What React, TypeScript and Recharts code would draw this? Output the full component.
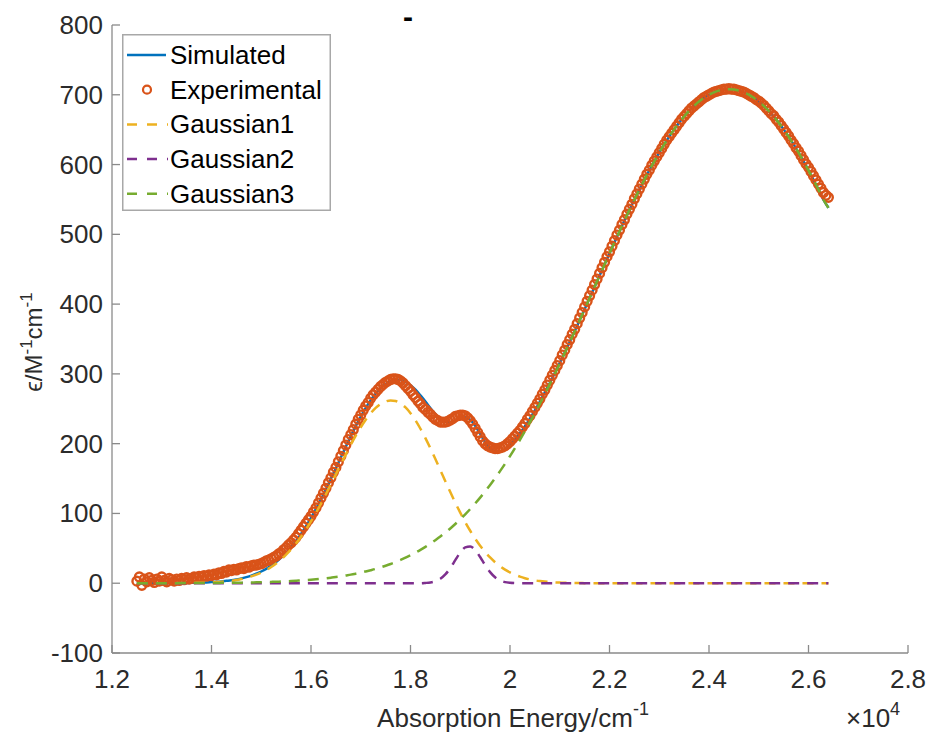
import { ComposedChart, Line, Scatter, XAxis, YAxis, Legend } from 'recharts';

const FONT = '"Liberation Sans", Arial, Helvetica, sans-serif';
const AXIS = '#8a8a8a';
const TEXT = '#2b2b2b';
const C_SIM = '#0072BD';
const C_EXP = '#D95319';
const C_G1 = '#EDB120';
const C_G2 = '#7E2F8E';
const C_G3 = '#77AC30';
const DASH = '11 8';

// Experimental spectrum (cm^-1, M^-1 cm^-1)
const EXP_ENERGY = [
  12500, 12550, 12600, 12650, 12700, 12750, 12800, 12850, 12900, 12950,
  13000, 13050, 13100, 13150, 13200, 13250, 13300, 13350, 13400, 13450,
  13500, 13550, 13600, 13650, 13700, 13750, 13800, 13850, 13900, 13950,
  14000, 14050, 14100, 14150, 14200, 14250, 14300, 14350, 14400, 14450,
  14500, 14550, 14600, 14650, 14700, 14750, 14800, 14850, 14900, 14950,
  15000, 15050, 15100, 15150, 15200, 15250, 15300, 15350, 15400, 15450,
  15500, 15550, 15600, 15650, 15700, 15750, 15800, 15850, 15900, 15950,
  16000, 16050, 16100, 16150, 16200, 16250, 16300, 16350, 16400, 16450,
  16500, 16550, 16600, 16650, 16700, 16750, 16800, 16850, 16900, 16950,
  17000, 17050, 17100, 17150, 17200, 17250, 17300, 17350, 17400, 17450,
  17500, 17550, 17600, 17650, 17700, 17750, 17800, 17850, 17900, 17950,
  18000, 18050, 18100, 18150, 18200, 18250, 18300, 18350, 18400, 18450,
  18500, 18550, 18600, 18650, 18700, 18750, 18800, 18850, 18900, 18950,
  19000, 19050, 19100, 19150, 19200, 19250, 19300, 19350, 19400, 19450,
  19500, 19550, 19600, 19650, 19700, 19750, 19800, 19850, 19900, 19950,
  20000, 20050, 20100, 20150, 20200, 20250, 20300, 20350, 20400, 20450,
  20500, 20550, 20600, 20650, 20700, 20750, 20800, 20850, 20900, 20950,
  21000, 21050, 21100, 21150, 21200, 21250, 21300, 21350, 21400, 21450,
  21500, 21550, 21600, 21650, 21700, 21750, 21800, 21850, 21900, 21950,
  22000, 22050, 22100, 22150, 22200, 22250, 22300, 22350, 22400, 22450,
  22500, 22550, 22600, 22650, 22700, 22750, 22800, 22850, 22900, 22950,
  23000, 23050, 23100, 23150, 23200, 23250, 23300, 23350, 23400, 23450,
  23500, 23550, 23600, 23650, 23700, 23750, 23800, 23850, 23900, 23950,
  24000, 24050, 24100, 24150, 24200, 24250, 24300, 24350, 24400, 24450,
  24500, 24550, 24600, 24650, 24700, 24750, 24800, 24850, 24900, 24950,
  25000, 25050, 25100, 25150, 25200, 25250, 25300, 25350, 25400, 25450,
  25500, 25550, 25600, 25650, 25700, 25750, 25800, 25850, 25900, 25950,
  26000, 26050, 26100, 26150, 26200, 26250, 26300, 26350, 26400,
];
const EXP_EPS = [
  3, 9, -3, 6, 2, 8, 4, 1, 6, 3,
  9, 4, 2, 7, 5, 3, 6, 4, 7, 5,
  8, 6, 7, 9, 8, 10, 9, 11, 10, 12,
  11, 13, 12, 15, 14, 17, 16, 19, 18, 20,
  19, 21, 22, 21, 24, 23, 25, 26, 26, 27,
  28, 30, 32, 33, 35, 37, 39, 42, 44, 48,
  51, 55, 58, 62, 66, 71, 76, 81, 86, 91,
  96, 102, 108, 115, 122, 129, 136, 144, 151, 159,
  166, 174, 182, 190, 198, 206, 213, 220, 228, 235,
  241, 248, 254, 259, 265, 270, 274, 278, 282, 285,
  288, 290, 292, 293, 293, 292, 290, 287, 283, 279,
  275, 270, 266, 261, 257, 252, 249, 245, 242, 238,
  235, 233, 231, 231, 231, 232, 234, 236, 239, 240,
  241, 241, 240, 237, 233, 228, 222, 216, 210, 204,
  200, 197, 195, 194, 193, 193, 194, 195, 197, 200,
  203, 207, 211, 215, 219, 224, 229, 235, 240, 246,
  252, 258, 264, 271, 277, 284, 291, 298, 305, 312,
  319, 327, 334, 342, 349, 357, 364, 372, 380, 388,
  396, 404, 412, 420, 428, 436, 444, 452, 460, 468,
  475, 483, 491, 499, 506, 514, 521, 529, 536, 543,
  551, 558, 565, 572, 579, 586, 592, 599, 605, 611,
  617, 623, 629, 635, 640, 645, 650, 655, 660, 665,
  669, 673, 677, 681, 684, 687, 690, 693, 696, 698,
  700, 702, 704, 705, 706, 707, 708, 708, 709, 708,
  708, 707, 706, 705, 704, 702, 700, 698, 696, 693,
  691, 688, 685, 681, 677, 673, 670, 665, 661, 656,
  651, 646, 641, 635, 630, 624, 619, 613, 607, 601,
  596, 590, 584, 578, 572, 566, 560, 556, 553,
];

// Fit curves sampled every 100 cm^-1
const FIT_ENERGY = [
  12500, 12600, 12700, 12800, 12900, 13000, 13100, 13200, 13300, 13400,
  13500, 13600, 13700, 13800, 13900, 14000, 14100, 14200, 14300, 14400,
  14500, 14600, 14700, 14800, 14900, 15000, 15100, 15200, 15300, 15400,
  15500, 15600, 15700, 15800, 15900, 16000, 16100, 16200, 16300, 16400,
  16500, 16600, 16700, 16800, 16900, 17000, 17100, 17200, 17300, 17400,
  17500, 17600, 17700, 17800, 17900, 18000, 18100, 18200, 18300, 18400,
  18500, 18600, 18700, 18800, 18900, 19000, 19100, 19200, 19300, 19400,
  19500, 19600, 19700, 19800, 19900, 20000, 20100, 20200, 20300, 20400,
  20500, 20600, 20700, 20800, 20900, 21000, 21100, 21200, 21300, 21400,
  21500, 21600, 21700, 21800, 21900, 22000, 22100, 22200, 22300, 22400,
  22500, 22600, 22700, 22800, 22900, 23000, 23100, 23200, 23300, 23400,
  23500, 23600, 23700, 23800, 23900, 24000, 24100, 24200, 24300, 24400,
  24500, 24600, 24700, 24800, 24900, 25000, 25100, 25200, 25300, 25400,
  25500, 25600, 25700, 25800, 25900, 26000, 26100, 26200, 26300, 26400,
];
const SIMULATED = [
  0, 0, 0.1, 0.1, 0.1, 0.1, 0.1, 0.1, 0.1, 0.2,
  0.4, 0.5, 0.7, 0.9, 1.2, 1.6, 2.0, 2.6, 3.4, 4.2,
  5.4, 6.8, 8.7, 10.9, 13.6, 16.8, 20.6, 25.2, 30.4, 36.6,
  43.7, 51.6, 60.6, 70.7, 81.7, 93.6, 106.5, 120.2, 134.6, 149.7,
  164.9, 180.3, 195.7, 210.8, 225.2, 238.7, 251.2, 262.3, 271.8, 279.6,
  285.5, 289.6, 291.6, 291.2, 288.5, 283.8, 277.3, 269.2, 260.4, 251.1,
  242.4, 235.4, 231.4, 230.8, 233.4, 236.6, 237.7, 234.2, 225.7, 213.9,
  202.4, 193.6, 189.1, 188.9, 192.2, 198.1, 205.9, 214.9, 225.0, 236.0,
  247.7, 260.3, 273.4, 287.0, 301.1, 315.7, 330.5, 345.7, 361.2, 376.9,
  392.6, 408.6, 424.7, 440.7, 456.7, 472.7, 488.5, 504.2, 519.7, 534.8,
  549.6, 564.1, 578.1, 591.7, 604.6, 617.1, 628.8, 640.0, 650.4, 660.1,
  668.9, 676.9, 684.1, 690.4, 695.7, 700.1, 703.5, 706.0, 707.5, 708.0,
  707.5, 706.0, 703.5, 700.1, 695.7, 690.4, 684.1, 676.9, 668.9, 660.1,
  650.4, 640.0, 628.8, 617.1, 604.6, 591.7, 578.1, 564.1, 549.6, 538.0,
];
const GAUSSIAN1 = [
  0, 0, 0, 0, 0, 0, 0, 0, 0, 0,
  0.2, 0.3, 0.5, 0.6, 0.9, 1.2, 1.6, 2.1, 2.8, 3.6,
  4.7, 6.0, 7.7, 9.8, 12.3, 15.4, 19.0, 23.3, 28.3, 34.2,
  41.0, 48.5, 57.1, 66.7, 77.2, 88.6, 100.9, 113.9, 127.5, 141.7,
  156.0, 170.4, 184.6, 198.5, 211.5, 223.5, 234.3, 243.6, 251.2, 256.8,
  260.4, 262.0, 261.2, 257.8, 251.9, 243.7, 233.5, 221.4, 207.9, 193.3,
  177.9, 162.1, 146.2, 130.6, 115.5, 101.1, 87.6, 75.2, 63.9, 53.7,
  44.8, 36.9, 30.1, 24.3, 19.5, 15.4, 12.1, 9.4, 7.2, 5.5,
  4.1, 3.1, 2.3, 1.7, 1.2, 0.9, 0.6, 0.4, 0.3, 0.2,
  0.1, 0, 0, 0, 0, 0, 0, 0, 0, 0,
  0, 0, 0, 0, 0, 0, 0, 0, 0, 0,
  0, 0, 0, 0, 0, 0, 0, 0, 0, 0,
  0, 0, 0, 0, 0, 0, 0, 0, 0, 0,
  0, 0, 0, 0, 0, 0, 0, 0, 0, 0,
];
const GAUSSIAN2 = [
  0, 0, 0, 0, 0, 0, 0, 0, 0, 0,
  0, 0, 0, 0, 0, 0, 0, 0, 0, 0,
  0, 0, 0, 0, 0, 0, 0, 0, 0, 0,
  0, 0, 0, 0, 0, 0, 0, 0, 0, 0,
  0, 0, 0, 0, 0, 0, 0, 0, 0, 0,
  0, 0, 0, 0, 0, 0, 0, 0, 0.4, 1.1,
  2.8, 6.4, 12.6, 21.7, 33.0, 43.9, 51.3, 52.7, 47.5, 37.5,
  26.1, 15.9, 8.5, 4.0, 1.6, 0.6, 0.2, 0, 0, 0,
  0, 0, 0, 0, 0, 0, 0, 0, 0, 0,
  0, 0, 0, 0, 0, 0, 0, 0, 0, 0,
  0, 0, 0, 0, 0, 0, 0, 0, 0, 0,
  0, 0, 0, 0, 0, 0, 0, 0, 0, 0,
  0, 0, 0, 0, 0, 0, 0, 0, 0, 0,
  0, 0, 0, 0, 0, 0, 0, 0, 0, 0,
];
const GAUSSIAN3 = [
  0, 0, 0.1, 0.1, 0.1, 0.1, 0.1, 0.1, 0.1, 0.2,
  0.2, 0.2, 0.2, 0.3, 0.3, 0.4, 0.4, 0.5, 0.6, 0.6,
  0.7, 0.8, 1.0, 1.1, 1.3, 1.4, 1.6, 1.9, 2.1, 2.4,
  2.7, 3.1, 3.5, 4.0, 4.5, 5.0, 5.6, 6.3, 7.1, 8.0,
  8.9, 9.9, 11.1, 12.3, 13.7, 15.2, 16.9, 18.7, 20.6, 22.8,
  25.1, 27.6, 30.4, 33.4, 36.6, 40.1, 43.8, 47.8, 52.1, 56.7,
  61.7, 66.9, 72.6, 78.5, 84.9, 91.6, 98.8, 106.3, 114.3, 122.7,
  131.5, 140.8, 150.5, 160.6, 171.1, 182.1, 193.6, 205.5, 217.8, 230.5,
  243.6, 257.2, 271.1, 285.3, 299.9, 314.8, 329.9, 345.3, 360.9, 376.7,
  392.5, 408.6, 424.7, 440.7, 456.7, 472.7, 488.5, 504.2, 519.7, 534.8,
  549.6, 564.1, 578.1, 591.7, 604.6, 617.1, 628.8, 640.0, 650.4, 660.1,
  668.9, 676.9, 684.1, 690.4, 695.7, 700.1, 703.5, 706.0, 707.5, 708.0,
  707.5, 706.0, 703.5, 700.1, 695.7, 690.4, 684.1, 676.9, 668.9, 660.1,
  650.4, 640.0, 628.8, 617.1, 604.6, 591.7, 578.1, 564.1, 549.6, 538.0,
];

const X_TICKS = [12000, 14000, 16000, 18000, 20000, 22000, 24000, 26000, 28000];
const Y_TICKS = [-100, 0, 100, 200, 300, 400, 500, 600, 700, 800];

const LEGEND_ITEMS = [
  { name: 'Simulated', color: C_SIM, kind: 'line' },
  { name: 'Experimental', color: C_EXP, kind: 'circle' },
  { name: 'Gaussian1', color: C_G1, kind: 'dash' },
  { name: 'Gaussian2', color: C_G2, kind: 'dash' },
  { name: 'Gaussian3', color: C_G3, kind: 'dash' },
];

const expData = EXP_ENERGY.map((x, i) => ({ x, y: EXP_EPS[i] }));
const fitData = (vals: number[]) => FIT_ENERGY.map((x, i) => ({ x, y: vals[i] }));

// MATLAB style: ticks point into the box
const BottomTick = ({ x, y, payload }: any) => (
  <g>
    <line x1={x} y1={y} x2={x} y2={y - 8} stroke={AXIS} strokeWidth={1.3} />
    <text x={x} y={y + 35} textAnchor="middle" fontSize={26} fill={TEXT} fontFamily={FONT}>
      {String(payload.value / 10000)}
    </text>
  </g>
);
const TopTick = ({ x, y }: any) => <line x1={x} y1={y} x2={x} y2={y + 8} stroke={AXIS} strokeWidth={1.3} />;
const LeftTick = ({ x, y, payload }: any) => (
  <g>
    <line x1={x} y1={y} x2={x + 8} y2={y} stroke={AXIS} strokeWidth={1.3} />
    <text x={x - 9} y={y + 9} textAnchor="end" fontSize={26} fill={TEXT} fontFamily={FONT}>
      {payload.value}
    </text>
  </g>
);
const RightTick = ({ x, y }: any) => <line x1={x} y1={y} x2={x - 8} y2={y} stroke={AXIS} strokeWidth={1.3} />;

// axis title, exponent and the small title mark above the box
const XLabel = () => (
  <g fontFamily={FONT} fill={TEXT}>
    <text x={513} y={727} textAnchor="middle" fontSize={26}>
      Absorption Energy/cm<tspan dy={-12} fontSize={18}>-1</tspan>
    </text>
    <text x={846} y={727} fontSize={26}>
      ×10<tspan dy={-12} fontSize={18}>4</tspan>
    </text>
    <text x={408} y={27} textAnchor="middle" fontSize={30} fontWeight="bold" fill="#000">
      -
    </text>
  </g>
);
const YLabel = () => (
  <text transform="translate(42,342) rotate(-90)" textAnchor="middle" fontSize={24} fill={TEXT} fontFamily={FONT}>
    ϵ/M<tspan dy={-10} fontSize={17}>-1</tspan>
    <tspan dy={10} fontSize={24}>cm</tspan>
    <tspan dy={-10} fontSize={17}>-1</tspan>
  </text>
);

const LegendBox = () => (
  <svg width={209} height={177} style={{ display: 'block', fontFamily: FONT }}>
    <rect x={0.75} y={0.75} width={207.5} height={175.5} fill="#fff" stroke="#a8a8a8" strokeWidth={1.5} />
    {LEGEND_ITEMS.map((it, i) => {
      const cy = 21 + i * 34.7;
      return (
        <g key={it.name}>
          {it.kind === 'line' && <line x1={5} x2={44} y1={cy} y2={cy} stroke={it.color} strokeWidth={2.5} />}
          {it.kind === 'circle' && <circle cx={25} cy={cy} r={4} fill="none" stroke={it.color} strokeWidth={2.2} />}
          {it.kind === 'dash' && (
            <line x1={5} x2={46} y1={cy} y2={cy} stroke={it.color} strokeWidth={2.5} strokeDasharray="10 10" />
          )}
          <text x={48} y={cy + 9} fontSize={26} fill="#000">
            {it.name}
          </text>
        </g>
      );
    })}
  </svg>
);

const ExpCircle = (p: any) => <circle cx={p.cx} cy={p.cy} r={4.4} fill="none" stroke={C_EXP} strokeWidth={2.4} />;

export default function App() {
  return (
    <div style={{ position: 'absolute', left: 0, top: 0, width: 928, height: 735, background: '#fff', fontFamily: FONT }}>
      <ComposedChart width={928} height={735} margin={{ top: 25, right: 20, bottom: 0, left: 0 }} style={{ fontFamily: FONT }}>
        <XAxis
          xAxisId="b"
          dataKey="x"
          type="number"
          domain={[12000, 28000]}
          ticks={X_TICKS}
          interval={0}
          height={82}
          tickSize={0}
          tickMargin={0}
          tick={BottomTick}
          axisLine={{ stroke: AXIS, strokeWidth: 1.3 }}
          label={XLabel}
        />
        <XAxis
          xAxisId="t"
          orientation="top"
          type="number"
          domain={[12000, 28000]}
          ticks={X_TICKS}
          interval={0}
          height={0}
          tickSize={0}
          tickMargin={0}
          tick={TopTick}
          axisLine={{ stroke: AXIS, strokeWidth: 1.3 }}
        />
        <YAxis
          yAxisId="l"
          dataKey="y"
          type="number"
          domain={[-100, 800]}
          ticks={Y_TICKS}
          interval={0}
          width={112}
          tickSize={0}
          tickMargin={0}
          tick={LeftTick}
          axisLine={{ stroke: AXIS, strokeWidth: 1.3 }}
          label={YLabel}
        />
        <YAxis
          yAxisId="r"
          orientation="right"
          type="number"
          domain={[-100, 800]}
          ticks={Y_TICKS}
          interval={0}
          width={0}
          tickSize={0}
          tickMargin={0}
          tick={RightTick}
          axisLine={{ stroke: AXIS, strokeWidth: 1.3 }}
        />
        <Legend
          layout="vertical"
          align="center"
          verticalAlign="middle"
          wrapperStyle={{ left: 122, top: 34, width: 209, height: 177 }}
          content={() => <LegendBox />}
        />
        <Line
          xAxisId="b"
          yAxisId="l"
          data={fitData(SIMULATED)}
          dataKey="y"
          name="Simulated"
          type="monotone"
          stroke={C_SIM}
          strokeWidth={2.5}
          dot={false}
          activeDot={false}
          isAnimationActive={false}
          zIndex={400}
        />
        <Scatter
          xAxisId="b"
          yAxisId="l"
          data={expData}
          dataKey="y"
          name="Experimental"
          shape={ExpCircle}
          isAnimationActive={false}
          zIndex={500}
        />
        <Line
          xAxisId="b"
          yAxisId="l"
          data={fitData(GAUSSIAN1)}
          dataKey="y"
          name="Gaussian1"
          type="monotone"
          stroke={C_G1}
          strokeWidth={2.5}
          strokeDasharray={DASH}
          dot={false}
          activeDot={false}
          isAnimationActive={false}
          zIndex={600}
        />
        <Line
          xAxisId="b"
          yAxisId="l"
          data={fitData(GAUSSIAN2)}
          dataKey="y"
          name="Gaussian2"
          type="monotone"
          stroke={C_G2}
          strokeWidth={2.5}
          strokeDasharray={DASH}
          dot={false}
          activeDot={false}
          isAnimationActive={false}
          zIndex={600}
        />
        <Line
          xAxisId="b"
          yAxisId="l"
          data={fitData(GAUSSIAN3)}
          dataKey="y"
          name="Gaussian3"
          type="monotone"
          stroke={C_G3}
          strokeWidth={2.5}
          strokeDasharray={DASH}
          dot={false}
          activeDot={false}
          isAnimationActive={false}
          zIndex={600}
        />
      </ComposedChart>
    </div>
  );
}
